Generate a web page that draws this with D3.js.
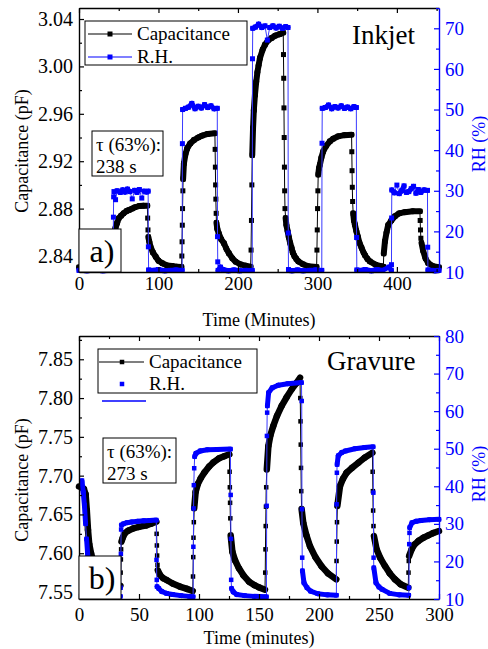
<!DOCTYPE html>
<html><head><meta charset="utf-8">
<script src="https://cdn.jsdelivr.net/npm/d3@7"></script>
<style>body{margin:0;background:#fff}svg{display:block}</style>
</head><body><svg id="c" width="488" height="649" font-family="'Liberation Serif','Times New Roman',Times,serif"></svg>
<script>
// ---------- DATA (time in minutes) ----------
const inkjetCap = [[0,2.8305],[20,2.8305],[43,2.8305],[43.5,2.845],[44,2.858],[46,2.864],[48,2.868],[50,2.8718],[53,2.874],[56,2.876],[60,2.878],[63,2.8788],[67,2.880],[70,2.881],[76,2.8822],[81,2.8825],[86,2.8825],
[86.4,2.872],[86.8,2.862],[87.3,2.856],[88.5,2.852],[90,2.8478],[93,2.843],[96.5,2.8394],[100,2.836],[105,2.8338],[111,2.832],[117,2.8316],[123,2.831],[129,2.8308],
[129.4,2.840],[129.7,2.852],[130,2.866],[130.3,2.880],[130.7,2.895],[131,2.905],[132,2.918],[134,2.926],[136.3,2.931],[140,2.935],[144.7,2.9379],[150,2.940],[155,2.9416],[162,2.943],[171,2.9436],
[171.3,2.930],[171.6,2.915],[171.9,2.900],[172.2,2.888],[172.6,2.876],[173,2.868],[174,2.863],[176,2.8588],[179,2.854],[182.4,2.8507],[185.5,2.846],[188.6,2.8423],[193,2.838],[197,2.8352],[203,2.833],[209.6,2.8318],[216,2.831],
[216.5,2.845],[217,2.870],[217.5,2.900],[218,2.925],[219,2.948],[220,2.963],[221.4,2.976],[223,2.987],[224.5,2.995],[226,3.001],[227.7,3.007],[231,3.014],[234,3.0183],[238,3.022],[242.4,3.024],[247,3.026],[252.8,3.0273],[257,3.0285],
[257.3,3.010],[257.6,2.990],[257.9,2.965],[258.2,2.940],[258.5,2.915],[258.8,2.895],[259.2,2.880],[260,2.872],[261,2.866],[262.5,2.861],[264,2.856],[265.7,2.851],[267.5,2.8468],[269,2.843],[271,2.840],[273.5,2.8375],[276,2.8355],[282,2.833],[288.5,2.8313],[299,2.8308],
[299.4,2.845],[299.8,2.862],[300.2,2.880],[300.6,2.895],[301,2.9086],[302,2.914],[303.1,2.917],[305,2.923],[307.3,2.9283],[311,2.933],[315.7,2.9368],[320,2.939],[326.2,2.941],[334,2.942],[343,2.9424],
[343.3,2.928],[343.6,2.912],[343.9,2.898],[344.3,2.886],[345,2.876],[346,2.870],[347.2,2.8664],[349,2.861],[351,2.856],[353,2.851],[355.6,2.8468],[358,2.843],[360,2.8405],[363,2.8375],[366,2.8355],[373,2.8328],[380.7,2.8313],[383,2.831],
[383.5,2.842],[385,2.8524],[387,2.860],[389,2.866],[393,2.870],[397.5,2.8735],[403,2.876],[410,2.877],[420,2.8777],[429,2.8777],
[429.3,2.870],[429.7,2.862],[430.2,2.855],[431,2.851],[433,2.8445],[436,2.838],[439.4,2.834],[445,2.8315],[453,2.8305]];

const inkjetRH = [[0,10.4],[10,10.3],[20,10.5],[30,10.3],[43,10.4],
[43.3,23.5],[43.6,28.5],[44,29.8],[46,27.8],[48,30.0],[52,29.6],[55,30.2],[58,29.7],[61,30.4],[64,29.8],[67,28.0],[70,30.1],[73,29.6],[76,30.3],[79,28.2],[82,29.9],[85,29.7],[87,29.9],
[87.3,16.2],[87.6,10.5],[92,10.4],[100,10.6],[108,10.3],[115,10.4],[122,10.5],[129.8,10.4],
[130.1,41.6],[130.4,50.0],[134,50.3],[138,50.6],[142,51.5],[146,50.2],[150,50.8],[154,50.4],[158,51.2],[162,50.5],[166,50.9],[170,50.2],[174,50.3],
[174.3,18.7],[174.6,12.5],[175,10.4],[178,11.2],[181,10.6],[188,10.3],[195,10.5],[202,10.3],[210,10.4],[218,10.4],
[218.3,62.5],[218.6,70.0],[222,70.3],[226,71.0],[230,70.2],[234,70.6],[237,67.1],[240,70.2],[244,70.6],[248,70.1],[252,70.5],[256,70.0],[260,70.4],[263,70.2],
[263.3,19.6],[263.6,10.6],[268,10.3],[275,10.5],[282,10.3],[290,10.4],[298,10.5],[305.5,10.4],
[305.8,41.7],[306.1,50.3],[310,50.5],[314,51.1],[318,50.2],[322,50.7],[326,50.4],[330,50.9],[334,50.3],[338,50.6],[342,50.2],[346,50.7],[349,50.5],
[349.3,18.5],[349.6,10.5],[354,10.4],[360,10.6],[368,10.3],[375,10.6],[382,10.4],[390,11.2],[393,10.4],
[393.2,11.8],[393.4,23.3],[393.6,30.2],[397,29.5],[400,31.4],[403,29.3],[406,30.0],[409,31.2],[412,29.6],[415,29.8],[418,30.5],[421,31.1],[424,29.4],[427,30.3],[430,29.6],[434,30.2],[438.5,30.1],
[438.8,16.1],[439.1,10.5],[443,10.4],[448,10.3],[453,10.4]];

const gravureCap = [[0,7.686],[2,7.685],[4,7.683],[5.5,7.676],[6.5,7.655],[7.5,7.630],[8.5,7.612],[10,7.600],[11.5,7.592],[13,7.585],[15,7.579],[17,7.575],[20,7.570],[24,7.566],[28,7.562],[34.5,7.558],
[34.7,7.575],[34.9,7.592],[35.1,7.605],[35.4,7.615],[36.5,7.620],[38.3,7.626],[41,7.629],[45.3,7.632],[50,7.634],[56.4,7.636],[60,7.638],[64.5,7.6406],
[64.7,7.625],[64.9,7.610],[65.1,7.597],[65.4,7.585],[65.7,7.578],[67.5,7.572],[70,7.568],[73,7.5655],[78,7.561],[84,7.557],[90,7.554],[94.8,7.5513],
[95,7.570],[95.2,7.595],[95.4,7.620],[95.7,7.640],[96,7.658],[97.2,7.679],[99,7.689],[101.4,7.6965],[104.5,7.704],[108.3,7.7115],[112,7.717],[116.7,7.7223],[121,7.725],[125.3,7.7275],
[125.5,7.705],[125.7,7.685],[125.9,7.665],[126.1,7.645],[126.4,7.623],[127.8,7.602],[130,7.591],[133.3,7.5805],[137,7.5715],[141.7,7.5633],[146,7.559],[150,7.556],[155,7.553],
[155.2,7.575],[155.4,7.605],[155.6,7.635],[155.8,7.660],[156,7.685],[156.5,7.708],[157.8,7.738],[159.5,7.752],[161.9,7.764],[165,7.777],[168.9,7.790],[173,7.801],[177.2,7.8112],[181,7.819],[184.2,7.8262],
[184.4,7.800],[184.6,7.770],[184.8,7.740],[185,7.710],[185.2,7.680],[185.5,7.657],[186.9,7.639],[189.5,7.623],[192.5,7.609],[197,7.595],[202.2,7.583],[207.5,7.574],[214.4,7.5664],
[214.6,7.590],[214.8,7.615],[215,7.640],[215.3,7.661],[217.5,7.6866],[220,7.696],[223,7.7037],[227.5,7.710],[232.8,7.7166],[238,7.723],[244.5,7.7295],
[244.7,7.705],[244.9,7.680],[245.1,7.655],[245.4,7.635],[245.8,7.622],[248,7.605],[251,7.594],[255,7.5835],[259,7.574],[263.3,7.5664],[268,7.560],[274.4,7.5555],
[274.6,7.575],[274.8,7.590],[275.1,7.5964],[277.2,7.605],[279.5,7.611],[282.8,7.6157],[287,7.620],[291.1,7.623],[295,7.626],[300,7.6286]];

const gravureRH = [[2.5,41.5],[3.5,38.5],[4.5,35],[5.5,30],[6.3,26],[7.2,22],[8.5,18],[10,15],[12,13],[15,12],[20,11.3],[27,10.9],[34.5,10.7],
[34.7,13],[34.9,22],[35.1,28.5],[35.4,29.7],[37,30.0],[40,30.3],[44,30.5],[49,30.7],[54,30.8],[59,30.9],[64.4,31.0],
[64.6,20.4],[64.8,15.1],[65.0,13.3],[66.5,12.8],[69,12.0],[73,11.5],[78,11.2],[85,10.9],[92,10.7],[95.1,10.6],
[95.3,23.9],[95.5,34.1],[95.7,40.3],[96,44.8],[96.4,47.9],[97.5,48.8],[101,49.4],[107,49.7],[115,49.8],[126.2,49.9],
[126.4,37.7],[126.6,26],[126.8,15.1],[127.1,12.8],[128.5,11.9],[131.5,11.2],[138,10.9],[146,10.7],[156.2,10.6],
[156.4,34.8],[156.6,53.4],[156.8,59.6],[157,61.4],[158,64.9],[161,66.2],[166,66.9],[174,67.3],[185.4,67.6],
[185.6,62.7],[185.8,33.9],[186,21],[186.2,17.5],[187.5,14.3],[190,13.0],[193,12.1],[199,11.4],[207,11.1],[214.5,11.0],
[214.7,35.2],[214.9,43.6],[215.1,45.8],[216,48.1],[219,49.0],[222,49.4],[230,50.0],[238,50.3],[245.1,50.5],
[245.3,38.3],[245.5,21],[245.7,18.3],[247.5,14.3],[250,13.2],[252.5,12.6],[259,11.5],[267,11.1],[274.8,11.0],
[275,13],[275.2,24.6],[275.4,27.6],[275.6,29],[277.5,30.3],[281,30.7],[285,30.9],[292,31.1],[300,31.2]];

const inkjetTimeTicks = [0,100,200,300,400];
const inkjetTimeMinor = [50,150,250,350,450];
const inkjetCapTicks = [2.84,2.88,2.92,2.96,3.00,3.04];
const inkjetCapMinor = [2.86,2.90,2.94,2.98,3.02];
const inkjetRHTicks = [10,20,30,40,50,60,70];
const inkjetRHMinor = [15,25,35,45,55,65,75];
const gravureTimeTicks = [0,50,100,150,200,250,300];
const gravureTimeMinor = [25,75,125,175,225,275];
const gravureCapTicks = [7.55,7.60,7.65,7.70,7.75,7.80,7.85];
const gravureCapMinor = [7.575,7.625,7.675,7.725,7.775,7.825,7.875];
const gravureRHTicks = [10,20,30,40,50,60,70,80];
const gravureRHMinor = [15,25,35,45,55,65,75];
const legendLabels = ["Capacitance","R.H."];
const panelTags = ["a)","b)"];
const panelTitles = ["Inkjet","Gravure"];
const tauLines = [["τ (63%):","238 s"],["τ (63%):","273 s"]];
const xTitles = ["Time (Minutes)","Time (minutes)"];
const yTitle = "Capacitance (pF)";
const rhTitle = "RH (%)";

// ---------- DRAWING ----------
const svg = d3.select("#c");
const FONT = "'Liberation Serif','Times New Roman',Times,serif";
const BLUE = "#0000ff";
const L = 79, R = 439;

function drawSeries(g, data, x, y, st){
  g.append("path").datum(data)
    .attr("d", d3.line().x(d=>x(d[0])).y(d=>y(d[1])))
    .attr("fill","none").attr("stroke",st.thin).attr("stroke-width",1);
  const bands = d3.pairs(data).filter(([a,b]) => (b[0]-a[0]) >= 0.9 && Math.abs(y(b[1])-y(a[1])) <= st.maxJump);
  g.selectAll(null).data(bands).join("line")
    .attr("x1",p=>x(p[0][0])).attr("y1",p=>y(p[0][1]))
    .attr("x2",p=>x(p[1][0])).attr("y2",p=>y(p[1][1]))
    .attr("stroke",st.color).attr("stroke-width",st.band).attr("stroke-linecap","round");
  g.selectAll(null).data(data).join("rect")
    .attr("x",d=>x(d[0])-st.m/2).attr("y",d=>y(d[1])-st.m/2)
    .attr("width",st.m).attr("height",st.m).attr("fill",st.color);
}

function styleAxis(sel, color, fs){
  sel.attr("font-family",FONT).attr("font-size",fs);
  sel.select(".domain").attr("stroke",color).attr("stroke-width",1.4);
  sel.selectAll(".tick line").attr("stroke",color).attr("stroke-width",1.2);
  sel.selectAll(".tick text").attr("fill",color);
}

function panel(o){
  const g = svg.append("g");
  const x = d3.scaleLinear().domain(o.xDomain).range([L,R]);
  const yL = d3.scaleLinear().domain(o.capDomain).range([o.bottom,o.top]);
  const yR = d3.scaleLinear().domain(o.rhDomain).range([o.bottom,o.top]);

  drawSeries(g, o.cap, x, yL, {thin:"#000", color:"#000", band:o.capBand, m:o.m, maxJump:Infinity});
  drawSeries(g, o.rh, x, yR, {thin:"#3a3aff", color:BLUE, band:o.rhBand, m:o.m, maxJump:o.rhJump});

  // axes
  const gb = g.append("g").attr("transform",`translate(0,${o.bottom})`)
    .call(d3.axisBottom(x).tickValues(o.xTicks).tickSize(-5).tickSizeOuter(0).tickPadding(o.xPad).tickFormat(d3.format("d")));
  styleAxis(gb,"#000",19);
  const gbm = g.append("g").attr("transform",`translate(0,${o.bottom})`)
    .call(d3.axisBottom(x).tickValues(o.xMinor).tickSize(-3).tickFormat(""));
  gbm.select(".domain").remove(); styleAxis(gbm,"#000",19);
  const gt = g.append("g").attr("transform",`translate(0,${o.top})`)
    .call(d3.axisTop(x).tickValues(o.xTicks).tickSize(-5).tickSizeOuter(0).tickFormat(""));
  styleAxis(gt,"#000",19);
  const gtm = g.append("g").attr("transform",`translate(0,${o.top})`)
    .call(d3.axisTop(x).tickValues(o.xMinor).tickSize(-3).tickFormat(""));
  gtm.select(".domain").remove(); styleAxis(gtm,"#000",19);

  const gl = g.append("g").attr("transform",`translate(${L},0)`)
    .call(d3.axisLeft(yL).tickValues(o.capTicks).tickSize(-5).tickSizeOuter(0).tickPadding(6).tickFormat(d3.format(".2f")));
  styleAxis(gl,"#000",20);
  const glm = g.append("g").attr("transform",`translate(${L},0)`)
    .call(d3.axisLeft(yL).tickValues(o.capMinor).tickSize(-3).tickFormat(""));
  glm.select(".domain").remove(); styleAxis(glm,"#000",20);

  const gr = g.append("g").attr("transform",`translate(${R},0)`)
    .call(d3.axisRight(yR).tickValues(o.rhTicks).tickSize(-5).tickSizeOuter(0).tickPadding(6).tickFormat(d3.format("d")));
  styleAxis(gr,BLUE,19);
  const grm = g.append("g").attr("transform",`translate(${R},0)`)
    .call(d3.axisRight(yR).tickValues(o.rhMinor).tickSize(-3).tickFormat(""));
  grm.select(".domain").remove(); styleAxis(grm,BLUE,19);

  // titles
  g.append("text").attr("x",(L+R)/2).attr("y",o.xTitleY).attr("text-anchor","middle").attr("font-size",18).text(o.xTitle);
  g.append("text").attr("transform",`translate(28,${o.yTitleC}) rotate(-90)`).attr("text-anchor","middle").attr("font-size",18).text(yTitle);
  g.append("text").attr("transform",`translate(485,${o.rhTitleC}) rotate(-90)`).attr("text-anchor","middle").attr("font-size",18).attr("fill",BLUE).text(rhTitle);

  // panel title
  g.append("text").attr("x",o.titleX).attr("y",o.titleY).attr("font-size",27).text(o.title);

  // legend
  const lg = o.legend;
  g.append("rect").attr("x",lg.x).attr("y",lg.y).attr("width",lg.w).attr("height",lg.h).attr("fill","#fff").attr("stroke","#000").attr("stroke-width",1);
  g.append("line").attr("x1",lg.lx1).attr("x2",lg.lx2).attr("y1",lg.y1).attr("y2",lg.y1).attr("stroke","#000").attr("stroke-width",1.2);
  g.append("rect").attr("x",lg.mx-o.m/2).attr("y",lg.y1-o.m/2).attr("width",o.m).attr("height",o.m).attr("fill","#000");
  if (lg.rhLine) g.append("line").attr("x1",lg.lx1).attr("x2",lg.lx2).attr("y1",lg.y2).attr("y2",lg.y2).attr("stroke",BLUE).attr("stroke-width",1.2);
  g.append("rect").attr("x",lg.mx-o.m/2).attr("y",lg.y2-o.m/2).attr("width",o.m).attr("height",o.m).attr("fill",BLUE);
  g.append("text").attr("x",lg.tx).attr("y",lg.y1+6).attr("font-size",19).text(legendLabels[0]);
  g.append("text").attr("x",lg.tx).attr("y",lg.y2+6).attr("font-size",19).text(legendLabels[1]);
  if (lg.stray) g.append("line").attr("x1",lg.stray[0]).attr("x2",lg.stray[1]).attr("y1",lg.stray[2]).attr("y2",lg.stray[2]).attr("stroke",BLUE).attr("stroke-width",1.5);

  // tau box
  const tb = o.tau;
  g.append("rect").attr("x",tb.x).attr("y",tb.y).attr("width",tb.w).attr("height",tb.h).attr("fill","#fff").attr("stroke","#000").attr("stroke-width",1);
  g.append("text").attr("x",tb.x+4).attr("y",tb.y+19.5).attr("font-size",19).text(o.tauText[0]);
  g.append("text").attr("x",tb.x+4).attr("y",tb.y+41.5).attr("font-size",19).text(o.tauText[1]);

  // panel tag
  g.append("rect").attr("x",L).attr("y",o.bottom-43).attr("width",42).attr("height",43).attr("fill","#fff").attr("stroke","#000").attr("stroke-width",1);
  g.append("text").attr("x",L+23).attr("y",o.bottom-10.5).attr("text-anchor","middle").attr("font-size",32).text(o.tag);
}

panel({top:8,bottom:272,xDomain:[0,453],capDomain:[2.8265,3.0493],rhDomain:[10,75],
  cap:inkjetCap,rh:inkjetRH,capBand:6,rhBand:5,rhJump:6,m:5,xPad:5,
  xTicks:inkjetTimeTicks,xMinor:inkjetTimeMinor,capTicks:inkjetCapTicks,capMinor:inkjetCapMinor,rhTicks:inkjetRHTicks,rhMinor:inkjetRHMinor,
  xTitle:xTitles[0],xTitleY:326,yTitleC:151,rhTitleC:144,title:panelTitles[0],titleX:352,titleY:44,
  legend:{x:85,y:21,w:162,h:44,lx1:88,lx2:132,mx:110,y1:34,y2:57,tx:137,rhLine:true},
  tau:{x:92,y:131,w:71,h:45},tauText:tauLines[0],tag:panelTags[0]});

panel({top:336,bottom:599,xDomain:[0,300],capDomain:[7.541,7.880],rhDomain:[10,80],
  cap:gravureCap,rh:gravureRH,capBand:6.5,rhBand:5,rhJump:Infinity,m:4.5,xPad:9,
  xTicks:gravureTimeTicks,xMinor:gravureTimeMinor,capTicks:gravureCapTicks,capMinor:gravureCapMinor,rhTicks:gravureRHTicks,rhMinor:gravureRHMinor,
  xTitle:xTitles[1],xTitleY:644,yTitleC:480,rhTitleC:474,title:panelTitles[1],titleX:327,titleY:370,
  legend:{x:98,y:349,w:159,h:44,lx1:99,lx2:144,mx:122,y1:362,y2:384,tx:149,rhLine:false,stray:[102,146,401]},
  tau:{x:103,y:438,w:73,h:45},tauText:tauLines[1],tag:panelTags[1]});
</script></body></html>
